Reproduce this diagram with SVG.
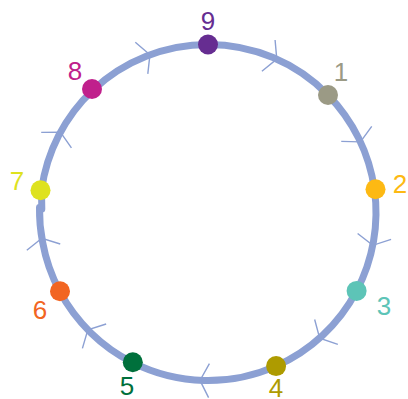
<svg xmlns="http://www.w3.org/2000/svg" width="408" height="399" viewBox="0 0 408 399">
<style>
.edge{fill:none;stroke:#8ca0d3;stroke-width:7;stroke-linecap:round;marker-mid:url(#chev)}
.lbl{font-family:"Liberation Sans",Arial,sans-serif;font-size:26px;text-anchor:middle}
</style>
<defs>
<marker id="chev" markerUnits="userSpaceOnUse" orient="auto" markerWidth="30" markerHeight="40" viewBox="-15 -20 30 40" refX="-4" refY="0" overflow="visible">
<path d="M-9,-17 L0,0 L-9,17" fill="none" stroke="#8ca0d3" stroke-width="1.4"/>
</marker>
</defs>
<rect width="408" height="399" fill="#ffffff"/>
<g id="connectors">
<path class="edge" d="M208,44.5 A168,168 0 0 1 273.1,57.6 A168,168 0 0 1 328,95"/>
<path class="edge" d="M328,95 A168,168 0 0 1 358.7,138.3 A168,168 0 0 1 374.4,189.2"/>
<path class="edge" d="M374.4,189.2 A168,168 0 0 1 373.5,241.4 A168,168 0 0 1 356.6,290.9"/>
<path class="edge" d="M356.6,290.9 A168,168 0 0 1 322.6,335.4 A168,168 0 0 1 276.1,366.1"/>
<path class="edge" d="M276.1,366.1 A168,168 0 0 1 204,380.5 A168,168 0 0 1 132.8,362.7"/>
<path class="edge" d="M132.8,362.7 A168,168 0 0 1 90.7,332.7 A168,168 0 0 1 59.6,291.2"/>
<path class="edge" d="M59.6,291.2 A168,168 0 0 1 42.6,242.2 A168,168 0 0 1 39.5,207.5"/>
<path class="edge" d="M41.5,190.3 A168,168 0 0 1 58.6,135.7 A168,168 0 0 1 93,90"/>
<path d="M41.5,190.3 L41.8,209" fill="none" stroke="#8ca0d3" stroke-width="7" stroke-linecap="round"/>
<path class="edge" d="M93,90 A168,168 0 0 1 146.2,56.3 A168,168 0 0 1 208,44.5"/>
</g>
<g id="n9"><circle cx="208" cy="44.5" r="10" fill="#662d91"/><text class="lbl" x="208" y="30" fill="#662d91">9</text></g>
<g id="n1"><circle cx="328" cy="95" r="10" fill="#9b9a85"/><text class="lbl" x="341" y="81" fill="#9b9a85">1</text></g>
<g id="n2"><circle cx="375.5" cy="189.2" r="10" fill="#fdb913"/><text class="lbl" x="400" y="193" fill="#fdb913">2</text></g>
<g id="n3"><circle cx="356.6" cy="290.9" r="10" fill="#5dc4b7"/><text class="lbl" x="384" y="315" fill="#5dc4b7">3</text></g>
<g id="n4"><circle cx="276.1" cy="366.1" r="10" fill="#ae9b00"/><text class="lbl" x="276" y="397" fill="#ae9b00">4</text></g>
<g id="n5"><circle cx="132.8" cy="362.2" r="10" fill="#00703c"/><text class="lbl" x="127" y="395" fill="#00703c">5</text></g>
<g id="n6"><circle cx="60" cy="291.2" r="10" fill="#f26522"/><text class="lbl" x="40" y="319" fill="#f26522">6</text></g>
<g id="n7"><circle cx="40.5" cy="190.3" r="10" fill="#dee21f"/><text class="lbl" x="17" y="190" fill="#dee21f">7</text></g>
<g id="n8"><circle cx="92" cy="89" r="10" fill="#c0208c"/><text class="lbl" x="75" y="80" fill="#c0208c">8</text></g>
</svg>
